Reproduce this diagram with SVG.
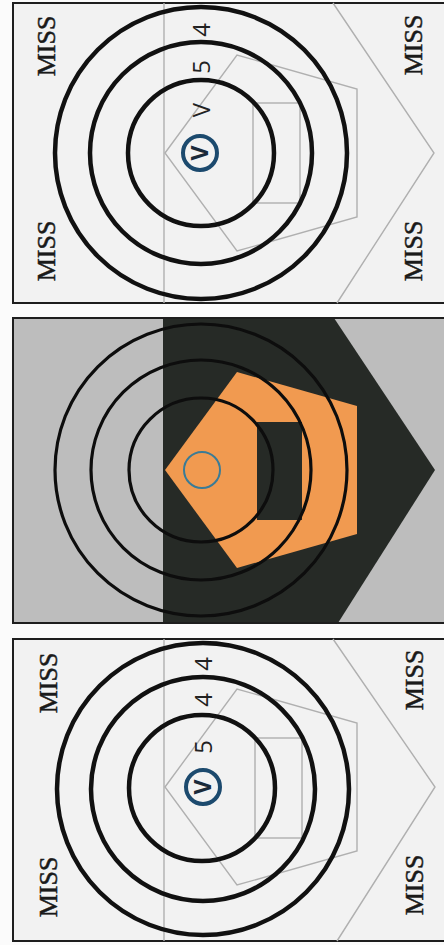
<svg xmlns="http://www.w3.org/2000/svg" width="444" height="945" viewBox="0 0 444 945">
<style>
.frame{fill:#f2f2f2;stroke:#1e1e1e;stroke-width:2}
.guide{fill:none;stroke:#b0b0b0;stroke-width:1.4}
.ring{fill:none;stroke:#111;stroke-width:4.5}
.ring2{fill:none;stroke:#0d0d0d;stroke-width:3.2}
.miss{font-family:"Liberation Serif","Times New Roman",serif;font-size:26px;fill:#1a1a1a;stroke:#1a1a1a;stroke-width:0.5;text-anchor:middle}
.num{font-family:"Open Sans","Liberation Sans",sans-serif;font-size:24px;fill:#222;text-anchor:middle}
.vt{font-family:"Open Sans","Liberation Sans",sans-serif;font-size:23px;font-weight:bold;fill:#1a2a3a;text-anchor:middle}
.vc{fill:none;stroke:#1c4a6e;stroke-width:4}
</style>
<defs>
<g id="plate">
<path d="M165,0 L237,-98 L357,-64 L357,64 L237,98 Z"/>
</g>
</defs>
<rect width="444" height="945" fill="#fbfbfb"/>

<g id="panel-top">
<rect class="frame" x="13" y="3" width="440" height="300"/>
<line class="guide" x1="164" y1="3" x2="164" y2="303"/>
<polyline class="guide" points="333,3 434,153 337,303"/>
<g class="guide" transform="translate(0,153)"><use href="#plate"/><rect x="253" y="-50" width="47" height="100"/></g>
<circle class="ring" cx="201" cy="153" r="146"/>
<circle class="ring" cx="201" cy="153" r="111"/>
<circle class="ring" cx="201" cy="153" r="73"/>
<text class="miss" transform="translate(55,46) rotate(-90)">MISS</text>
<text class="miss" transform="translate(55,251) rotate(-90)">MISS</text>
<text class="miss" transform="translate(422,45) rotate(-90)">MISS</text>
<text class="miss" transform="translate(422,251) rotate(-90)">MISS</text>
<text class="num" transform="translate(210,30) rotate(-90)">4</text>
<text class="num" transform="translate(210,67) rotate(-90)">5</text>
<text class="num" transform="translate(210,110) rotate(-90)">V</text>
<circle class="vc" cx="200" cy="153" r="17"/>
<text class="vt" transform="translate(208,153) rotate(-90)">V</text>
</g>

<g id="panel-middle">
<rect x="13" y="318" width="440" height="305" fill="#bdbdbd" stroke="none"/>
<path d="M163,318 L334,318 L435,470 L338,623 L163,623 Z" fill="#262a26"/>
<g transform="translate(0,470)" fill="#f19a50"><use href="#plate"/></g>
<rect x="257" y="422" width="45" height="98" fill="#262a26"/>
<circle class="ring2" cx="201" cy="470" r="146"/>
<circle class="ring2" cx="201" cy="470" r="110"/>
<circle class="ring2" cx="201" cy="470" r="72"/>
<circle cx="202" cy="470" r="18" fill="none" stroke="#3a7b96" stroke-width="2"/>
<rect x="13" y="318" width="440" height="305" fill="none" stroke="#1e1e1e" stroke-width="2"/>
</g>

<g id="panel-bottom">
<rect class="frame" x="13" y="639" width="440" height="302"/>
<line class="guide" x1="164" y1="639" x2="164" y2="941"/>
<polyline class="guide" points="333,639 435,787 337,941"/>
<g class="guide" transform="translate(0,787)"><use href="#plate"/><rect x="255" y="-49" width="47" height="100"/></g>
<circle class="ring" cx="203" cy="789" r="146"/>
<circle class="ring" cx="203" cy="789" r="112"/>
<circle class="ring" cx="202" cy="788" r="73"/>
<text class="miss" transform="translate(57,683) rotate(-90)">MISS</text>
<text class="miss" transform="translate(57,887) rotate(-90)">MISS</text>
<text class="miss" transform="translate(423,680) rotate(-90)">MISS</text>
<text class="miss" transform="translate(423,885) rotate(-90)">MISS</text>
<text class="num" transform="translate(212,664) rotate(-90)">4</text>
<text class="num" transform="translate(212,700) rotate(-90)">4</text>
<text class="num" transform="translate(212,747) rotate(-90)">5</text>
<circle class="vc" cx="203" cy="787" r="17"/>
<text class="vt" transform="translate(211,787) rotate(-90)">V</text>
</g>
</svg>
